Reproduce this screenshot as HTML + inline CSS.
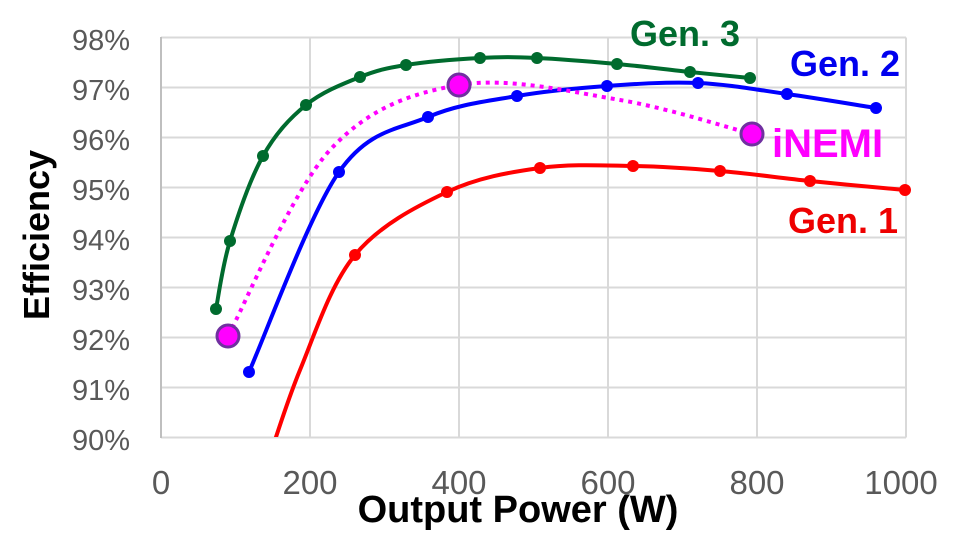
<!DOCTYPE html>
<html><head><style>
body{margin:0;background:#fff;}
svg{display:block;}
</style></head><body>
<svg width="962" height="553" xmlns="http://www.w3.org/2000/svg" font-family="Liberation Sans, Arial, sans-serif">
<defs><clipPath id="c"><rect x="161" y="30" width="760" height="407"/></clipPath></defs>
<g stroke="#d9d9d9" stroke-width="2">
<line x1="161" y1="37.5" x2="906" y2="37.5"/><line x1="161" y1="87.5" x2="906" y2="87.5"/>
<line x1="161" y1="137.5" x2="906" y2="137.5"/><line x1="161" y1="187.5" x2="906" y2="187.5"/>
<line x1="161" y1="237.5" x2="906" y2="237.5"/><line x1="161" y1="287.5" x2="906" y2="287.5"/>
<line x1="161" y1="337.5" x2="906" y2="337.5"/><line x1="161" y1="387.5" x2="906" y2="387.5"/>
<line x1="161" y1="437.5" x2="906" y2="437.5"/>
<line x1="310" y1="37.5" x2="310" y2="437.5"/><line x1="459" y1="37.5" x2="459" y2="437.5"/>
<line x1="608" y1="37.5" x2="608" y2="437.5"/><line x1="757" y1="37.5" x2="757" y2="437.5"/>
<line x1="906" y1="37.5" x2="906" y2="437.5"/>
</g>
<line x1="161" y1="37" x2="161" y2="438" stroke="#bfbfbf" stroke-width="2"/>
<g font-size="29" fill="#595959" text-anchor="end">
<text x="130" y="50">98%</text><text x="130" y="100">97%</text><text x="130" y="150">96%</text>
<text x="130" y="200">95%</text><text x="130" y="250">94%</text><text x="130" y="300">93%</text>
<text x="130" y="350">92%</text><text x="130" y="400">91%</text><text x="130" y="450">90%</text>
</g>
<g font-size="33" fill="#595959" text-anchor="middle">
<text x="161" y="494">0</text><text x="310" y="494">200</text><text x="459" y="494">400</text>
<text x="608" y="494">600</text><text x="757" y="494">800</text><text x="901" y="494">1000</text>
</g>
<text x="518" y="522" font-size="38" font-weight="bold" text-anchor="middle">Output Power (W)</text>
<text transform="translate(49,235) rotate(-90)" font-size="36" font-weight="bold" text-anchor="middle">Efficiency</text>
<g clip-path="url(#c)" fill="none" stroke-width="4">
<path stroke="#ff0000" d="M262,480 C268.3,461.7 284.5,407.5 300,370 C315.5,332.5 330.5,284.7 355,255 C379.5,225.3 416.2,206.5 447,192 C477.8,177.5 509,172.3 540,168 C571,163.7 603,165.5 633,166 C663,166.5 690.5,168.5 720,171 C749.5,173.5 779.2,177.8 810,181 C840.8,184.2 889.2,188.5 905,190"/>
<path stroke="#0000ff" d="M249,372 C264,338.7 309.2,214.5 339,172 C368.8,129.5 398.3,129.7 428,117 C457.7,104.3 487.2,101.2 517,96 C546.8,90.8 576.8,88.2 607,86 C637.2,83.8 668,81.7 698,83 C728,84.3 757.3,89.8 787,94 C816.7,98.2 861.2,105.7 876,108"/>
<path stroke="#ff00ff" stroke-dasharray="4 5" d="M228,336 C245,305 291.5,191.8 330,150 C368.5,108.2 410.7,93.3 459,85 C507.3,76.7 571.2,91.8 620,100 C668.8,108.2 730,128.3 752,134"/>
<path stroke="#006b2e" d="M216,309 C218.3,297.7 222.2,266.5 230,241 C237.8,215.5 250.3,178.7 263,156 C275.7,133.3 289.8,118.2 306,105 C322.2,91.8 343.3,83.7 360,77 C376.7,70.3 386,68.2 406,65 C426,61.8 458.2,59.2 480,58 C501.8,56.8 514.2,57 537,58 C559.8,59 591.5,61.7 617,64 C642.5,66.3 667.8,69.7 690,72 C712.2,74.3 740,77 750,78"/>
</g>
<g fill="#006b2e">
<circle cx="216" cy="309" r="6"/><circle cx="230" cy="241" r="6"/><circle cx="263" cy="156" r="6"/><circle cx="306" cy="105" r="6"/><circle cx="360" cy="77" r="6"/><circle cx="406" cy="65" r="6"/><circle cx="480" cy="58" r="6"/><circle cx="537" cy="58" r="6"/><circle cx="617" cy="64" r="6"/><circle cx="690" cy="72" r="6"/><circle cx="750" cy="78" r="6"/>
</g>
<g fill="#0000ff">
<circle cx="249" cy="372" r="6"/><circle cx="339" cy="172" r="6"/><circle cx="428" cy="117" r="6"/><circle cx="517" cy="96" r="6"/><circle cx="607" cy="86" r="6"/><circle cx="698" cy="83" r="6"/><circle cx="787" cy="94" r="6"/><circle cx="876" cy="108" r="6"/>
</g>
<g fill="#ff0000">
<circle cx="355" cy="255" r="6"/><circle cx="447" cy="192" r="6"/><circle cx="540" cy="168" r="6"/><circle cx="633" cy="166" r="6"/><circle cx="720" cy="171" r="6"/><circle cx="810" cy="181" r="6"/><circle cx="905" cy="190" r="6"/>
</g>
<g fill="#ff00ff" stroke="#7030a0" stroke-width="3">
<circle cx="228" cy="336" r="11"/><circle cx="459" cy="85" r="11"/><circle cx="752" cy="134" r="11"/>
</g>
<g font-weight="bold">
<text x="630" y="46" font-size="36" fill="#006b2e">Gen. 3</text>
<text x="790" y="76" font-size="36" fill="#0000ee">Gen. 2</text>
<text x="772" y="157" font-size="40" fill="#ff00ff">iNEMI</text>
<text x="788" y="233" font-size="36" fill="#ee0000">Gen. 1</text>
</g>
</svg>
</body></html>
